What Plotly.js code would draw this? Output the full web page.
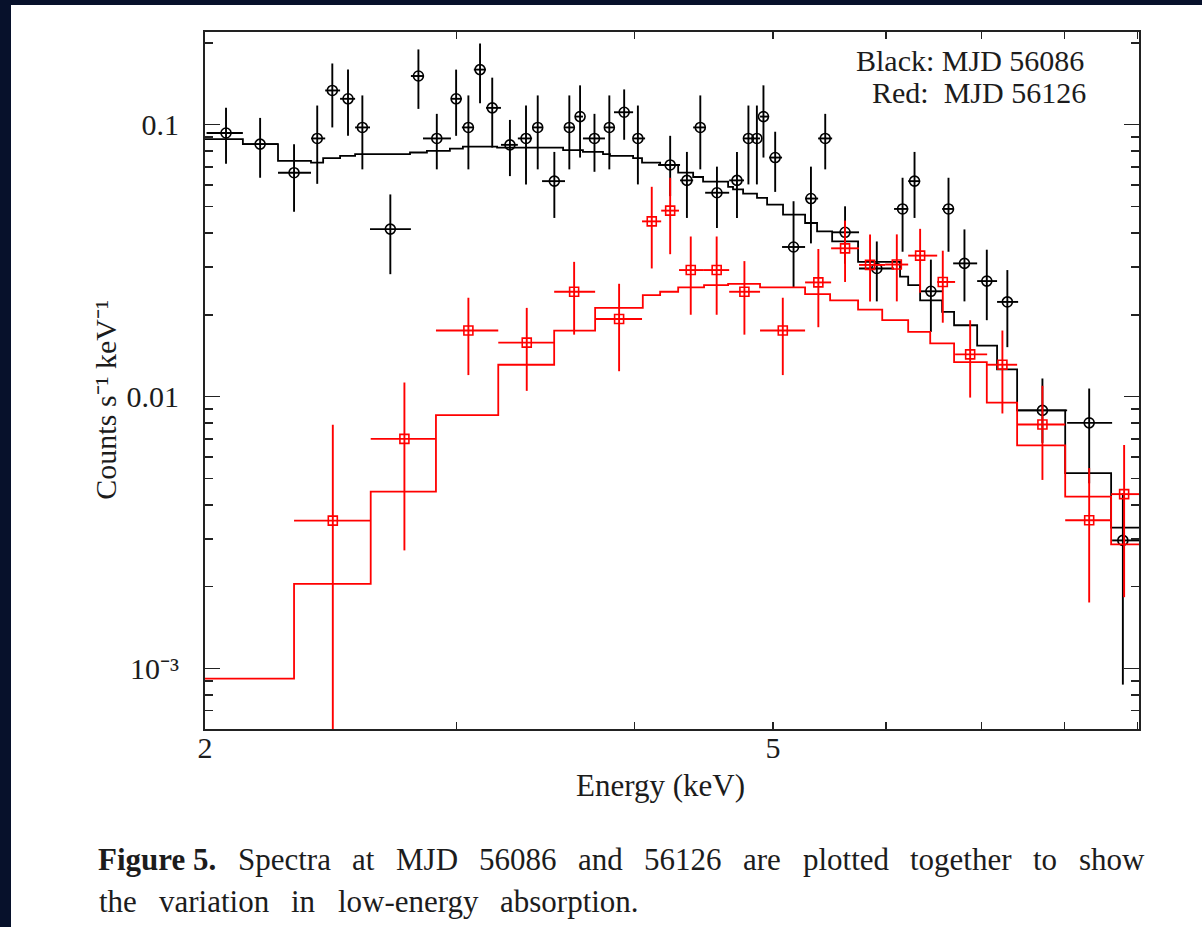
<!DOCTYPE html>
<html><head><meta charset="utf-8">
<script src="https://cdn.plot.ly/plotly-3.0.1.min.js"></script>
<style>
html,body{margin:0;padding:0;width:1202px;height:927px;overflow:hidden;background:#07112b;}
#chart{position:absolute;left:11px;top:5px;width:1191px;height:922px;background:#ffffff;}
</style></head><body>
<div id="chart"></div>
<script>
// ---- MJD 56086 (black) data ----
const blackEnergy = [2.069,2.186,2.309,2.397,2.456,2.519,2.578,2.697,2.822,2.907,2.999,3.059,3.117,3.179,3.271,3.357,3.421,3.514,3.600,3.663,3.749,3.840,3.933,4.021,4.236,4.352,4.447,4.568,4.718,4.806,4.872,4.924,5.018,5.169,5.316,5.440,5.617,5.912,6.163,6.283,6.451,6.637,6.810,7.060,7.298,7.723,8.328,8.793];
const blackRate = [0.0932,0.0848,0.0666,0.0890,0.1336,0.1245,0.0977,0.0413,0.1510,0.0890,0.1245,0.0977,0.1594,0.1153,0.0843,0.0890,0.0977,0.0620,0.0977,0.1071,0.0890,0.0977,0.1111,0.0890,0.0711,0.0624,0.0977,0.0562,0.0624,0.0890,0.0890,0.1071,0.0757,0.0355,0.0535,0.0890,0.0402,0.0296,0.0490,0.0620,0.0244,0.0490,0.0309,0.0266,0.0223,0.00890,0.00801,0.00296];
const blackUpper = [0.1153,0.1059,0.0848,0.1176,0.1679,0.1594,0.1281,0.0554,0.1891,0.1096,0.1594,0.1281,0.1990,0.1489,0.1041,0.1176,0.1281,0.0794,0.1281,0.1395,0.1096,0.1281,0.1348,0.1176,0.0910,0.0794,0.1281,0.0701,0.0794,0.1176,0.1176,0.1395,0.0942,0.0523,0.0701,0.1096,0.0501,0.0372,0.0638,0.0794,0.0319,0.0638,0.0412,0.0347,0.0292,0.01166,0.01071,0.00441];
const blackLower = [0.0719,0.0638,0.0478,0.0606,0.0977,0.0910,0.0685,0.0282,0.1143,0.0685,0.0910,0.0685,0.1199,0.0824,0.0647,0.0603,0.0685,0.0454,0.0685,0.0757,0.0671,0.0685,0.0880,0.0603,0.0546,0.0454,0.0685,0.0417,0.0454,0.0603,0.0603,0.0757,0.0566,0.0253,0.0366,0.0685,0.0308,0.0224,0.0341,0.0454,0.0173,0.0341,0.0224,0.0191,0.0152,0.00676,0.00480,0.000873];
const blackBinLo = [2.005,2.126,2.250,2.373,2.428,2.487,2.548,2.610,2.788,2.843,2.974,3.027,3.086,3.147,3.224,3.313,3.390,3.445,3.575,3.633,3.680,3.813,3.869,3.990,4.154,4.304,4.396,4.482,4.659,4.772,4.834,4.897,4.969,5.074,5.266,5.378,5.501,5.745,6.079,6.219,6.340,6.569,6.687,6.951,7.178,7.426,8.037,8.642];
const blackBinHi = [2.126,2.250,2.373,2.428,2.487,2.548,2.610,2.788,2.843,2.974,3.027,3.086,3.147,3.224,3.313,3.390,3.445,3.575,3.633,3.680,3.813,3.869,3.990,4.068,4.304,4.396,4.482,4.659,4.772,4.834,4.897,4.969,5.074,5.266,5.378,5.501,5.745,6.079,6.219,6.340,6.569,6.687,6.951,7.178,7.426,8.037,8.642,9.025];
const blackModelEdges = [2.000,2.126,2.250,2.373,2.420,2.487,2.548,2.784,2.861,2.969,3.032,3.204,3.564,3.680,3.801,3.844,3.990,4.048,4.168,4.291,4.396,4.467,4.651,4.688,4.765,4.873,4.953,5.082,5.266,5.369,5.501,5.736,6.138,6.219,6.340,6.569,6.697,6.951,7.178,7.414,8.012,8.628,9.025];
const blackModel = [0.0885,0.0848,0.0736,0.0725,0.0753,0.0768,0.0779,0.0790,0.0801,0.0817,0.0831,0.0824,0.0806,0.0794,0.0779,0.0768,0.0753,0.0725,0.0711,0.0666,0.0642,0.0617,0.0591,0.0578,0.0558,0.0538,0.0508,0.0467,0.0435,0.0405,0.0372,0.0313,0.0276,0.0257,0.0226,0.0205,0.0183,0.0154,0.0126,0.00890,0.00523,0.00330];

// ---- MJD 56126 (red) data ----
const redEnergy = [2.458,2.759,3.059,3.361,3.628,3.901,4.112,4.236,4.379,4.566,4.775,5.080,5.380,5.617,5.848,6.106,6.340,6.576,6.873,7.240,7.723,8.328,8.811];
const redRate = [0.00350,0.00699,0.0175,0.0158,0.0243,0.0193,0.0441,0.0483,0.0292,0.0292,0.0243,0.0175,0.0263,0.0351,0.0305,0.0306,0.0330,0.0264,0.0143,0.0131,0.00790,0.00351,0.00438];
const redUpper = [0.00788,0.01127,0.0231,0.0212,0.0313,0.0260,0.0591,0.0638,0.0388,0.0388,0.0315,0.0231,0.0349,0.0444,0.0395,0.0395,0.0414,0.0344,0.0191,0.0175,0.01096,0.00546,0.00664];
const redLower = [0.0003,0.00272,0.0120,0.0105,0.0169,0.0124,0.0296,0.0334,0.0200,0.0200,0.0169,0.0120,0.0180,0.0264,0.0224,0.0224,0.0241,0.0187,0.00992,0.00867,0.00494,0.00175,0.00183];
const redBinLo = [2.309,2.613,2.903,3.210,3.513,3.753,4.048,4.175,4.297,4.467,4.659,4.897,5.266,5.492,5.745,5.992,6.219,6.517,6.708,7.064,7.414,8.012,8.628];
const redBinHi = [2.613,2.903,3.210,3.513,3.753,4.048,4.175,4.297,4.467,4.659,4.897,5.266,5.492,5.745,5.992,6.219,6.517,6.708,7.064,7.414,8.012,8.628,9.025];
const redModelEdges = [2.000,2.309,2.613,2.903,3.210,3.513,3.753,4.053,4.168,4.291,4.474,4.651,4.897,5.266,5.483,5.736,5.964,6.219,6.444,6.697,7.060,7.414,8.012,8.628,9.025];
const redModel = [0.000918,0.00205,0.00447,0.00855,0.0131,0.0175,0.0212,0.0236,0.0243,0.0252,0.0257,0.0260,0.0252,0.0238,0.0226,0.0209,0.0191,0.0173,0.0157,0.0134,0.00950,0.00662,0.00429,0.00286];

// ---- axis ticks ----
const xTickVals = [2,5];
const xTickText = ['2','5'];
const xMinorVals = [3,4,6,7,8,9];
const yTickVals = [0.001,0.01,0.1];
const yTickText = ['10\u207B\u00B3','0.01','0.1'];
const yMinorVals = [0.0007,0.0008,0.0009,0.002,0.003,0.004,0.005,0.006,0.007,0.008,0.009,0.02,0.03,0.04,0.05,0.06,0.07,0.08,0.09,0.2];

// ---- texts ----
const legendLines = ['Black: MJD 56086', 'Red:\u00a0\u00a0MJD 56126'];
const xTitle = 'Energy (keV)';
const yTitle = 'Counts s\u207B\u00B9 keV\u207B\u00B9';
const captionWords1 = ['Figure 5.', 'Spectra', 'at', 'MJD', '56086', 'and', '56126', 'are', 'plotted', 'together', 'to', 'show'];
const captionBold1 = [true, false, false, false, false, false, false, false, false, false, false, false];
const captionWords2 = ['the', 'variation', 'in', 'low-energy', 'absorption.'];

const serif = 'Liberation Serif, Times New Roman, serif';
const textColor = '#1c1c1c';

function dataTrace(E, v, up, lo, bLo, bHi, color, symbol, size) {
  return {
    type: 'scatter', mode: 'markers', x: E, y: v,
    marker: {symbol: symbol, size: size, color: color, line: {color: color, width: 1.6}},
    error_y: {type: 'data', symmetric: false,
      array: up.map((u, i) => u - v[i]), arrayminus: lo.map((l, i) => v[i] - l),
      color: color, thickness: 1.9, width: 0},
    error_x: {type: 'data', symmetric: false,
      array: bHi.map((h, i) => h - E[i]), arrayminus: bLo.map((l, i) => E[i] - l),
      color: color, thickness: 1.9, width: 0},
    showlegend: false, hoverinfo: 'skip'
  };
}
function stepTrace(edges, vals, color) {
  return {
    type: 'scatter', mode: 'lines', x: edges, y: vals.concat([vals[vals.length - 1]]),
    line: {shape: 'hv', color: color, width: 1.8},
    showlegend: false, hoverinfo: 'skip'
  };
}

const traces = [
  stepTrace(blackModelEdges, blackModel, '#000000'),
  dataTrace(blackEnergy, blackRate, blackUpper, blackLower, blackBinLo, blackBinHi, '#000000', 'circle-open', 10),
  stepTrace(redModelEdges, redModel, '#ff0000'),
  dataTrace(redEnergy, redRate, redUpper, redLower, redBinLo, redBinHi, '#ff0000', 'square-open', 9)
];

// ---- page-pixel -> paper helpers (plot area: x 205..1139, y 32..724 on the page) ----
const PX0 = 205, PW = 934, PY1 = 724, PH = 692;
const px = p => (p - PX0) / PW;
const py = p => (PY1 - p) / PH;

const ctx = document.createElement('canvas').getContext('2d');
function measure(word, fs, bold) {
  ctx.font = (bold ? 'bold ' : '') + fs + 'px "Liberation Serif"';
  return ctx.measureText(word).width;
}
// lay out words so the line spans x0..x1 (justified spacing)
function justifiedWords(words, bolds, fs, x0, x1, yCenter) {
  const widths = words.map((w, i) => measure(w, fs, bolds && bolds[i]));
  const total = widths.reduce((a, b) => a + b, 0);
  const gap = (x1 - x0 - total) / (words.length - 1);
  const out = [];
  let x = x0;
  words.forEach((w, i) => {
    out.push({xref: 'paper', yref: 'paper', x: px(x), y: py(yCenter), text: (bolds && bolds[i]) ? '<b>' + w + '</b>' : w,
      showarrow: false, xanchor: 'left', yanchor: 'middle', borderpad: 0,
      font: {family: serif, size: fs, color: textColor}});
    x += widths[i] + gap;
  });
  return out;
}

const annotations = [
  {xref: 'paper', yref: 'paper', x: px(106), y: py(397), text: yTitle, showarrow: false,
   textangle: -90, xanchor: 'center', yanchor: 'middle', font: {family: serif, size: 30, color: textColor}},
  {xref: 'paper', yref: 'paper', x: px(660), y: py(780), text: xTitle, showarrow: false,
   xanchor: 'center', yanchor: 'middle', font: {family: serif, size: 31, color: textColor}},
  {xref: 'paper', yref: 'paper', x: px(1086), y: py(60), text: legendLines[0], showarrow: false,
   xanchor: 'right', yanchor: 'middle', font: {family: serif, size: 30, color: textColor}},
  {xref: 'paper', yref: 'paper', x: px(1088), y: py(92), text: legendLines[1], showarrow: false,
   xanchor: 'right', yanchor: 'middle', font: {family: serif, size: 30, color: textColor}}
].concat(
  justifiedWords(captionWords1, captionBold1, 31, 97, 1143, 854),
  justifiedWords(captionWords2, null, 31, 98, 638, 895)
);

const axisCommon = {
  showline: true, linecolor: '#222', linewidth: 2, mirror: 'allticks',
  ticks: 'inside', tickcolor: '#222', tickwidth: 1.5,
  showgrid: false, zeroline: false,
  tickfont: {family: serif, size: 30, color: textColor}
};

const layout = {
  width: 1191, height: 922,
  margin: {l: 194, r: 63, t: 27, b: 198},
  paper_bgcolor: '#ffffff', plot_bgcolor: '#ffffff',
  xaxis: Object.assign({}, axisCommon, {
    type: 'log', range: [Math.log10(2), Math.log10(9.025)],
    tickmode: 'array', tickvals: xTickVals, ticktext: xTickText, ticklen: 7,
    ticklabelstandoff: -9,
    minor: {tickmode: 'array', tickvals: xMinorVals, ticks: 'inside', ticklen: 7, tickcolor: '#222', tickwidth: 1.5, showgrid: false}
  }),
  yaxis: Object.assign({}, axisCommon, {
    type: 'log', range: [-3.2222, -0.6592],
    tickmode: 'array', tickvals: yTickVals, ticktext: yTickText, ticklen: 15,
    ticklabelstandoff: 18,
    minor: {tickmode: 'array', tickvals: yMinorVals, ticks: 'inside', ticklen: 8, tickcolor: '#222', tickwidth: 1.5, showgrid: false}
  }),
  annotations: annotations
};

Plotly.newPlot('chart', traces, layout, {displayModeBar: false, staticPlot: true});
</script>
</body></html>
